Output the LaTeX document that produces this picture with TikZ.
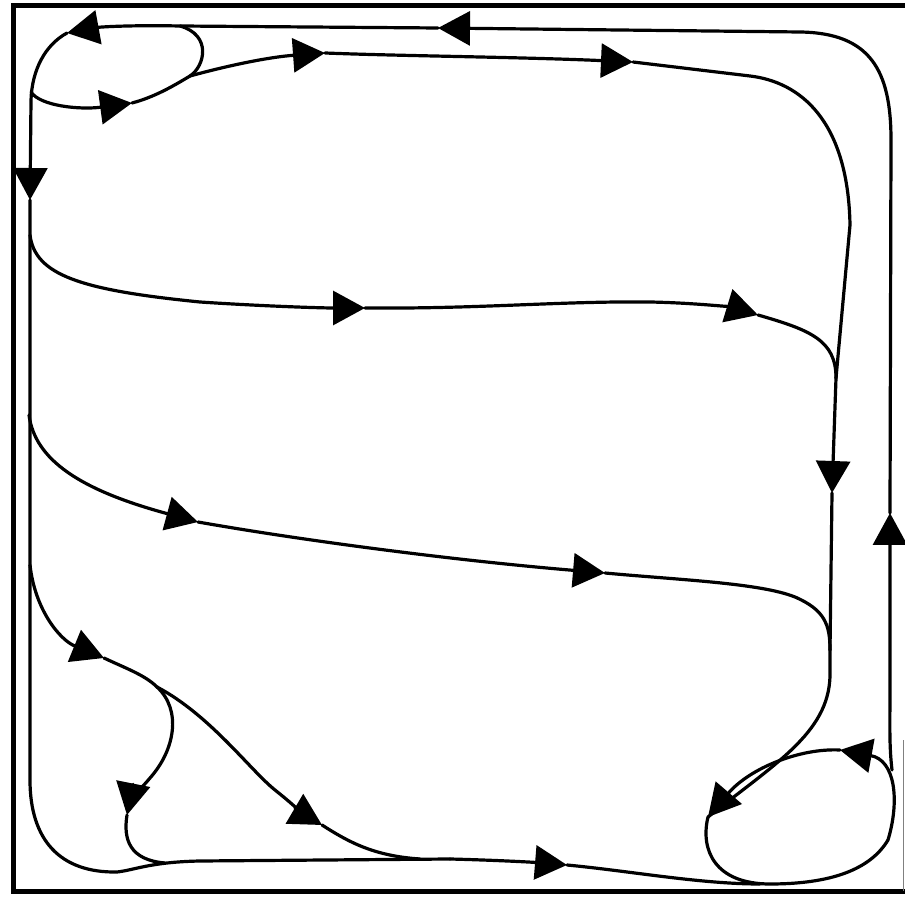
\documentclass[tikz,border=0pt]{standalone}
\usepackage{tikz}
\usetikzlibrary{arrows.meta}

\begin{document}
\begin{tikzpicture}[x=0.5pt, y=-0.5pt,
    flow/.style={line width=1.6pt, line cap=round, line join=round},
    headed/.style={-{Triangle[length=16pt, width=17pt]}}]
    \useasboundingbox (0,0) rectangle (905,897);

    % Frame
    \draw[line width=2.5pt] (905,6) -- (13,6) -- (13,891) -- (905,891);
    \draw[gray, line width=0.5pt] (903,740) -- (903,891);

    % Junctions
    \coordinate (lj1) at (31,92);    % left side meets top-left loop
    \coordinate (lj2) at (30,235);
    \coordinate (lj3) at (29,415);
    \coordinate (lj4) at (30,565);
    \coordinate (tlj) at (190,76);   % top-left loop splits
    \coordinate (blj) at (157,687);  % lower-left split
    \coordinate (rj1) at (836,378);
    \coordinate (rj2) at (830,650);
    \coordinate (brj) at (892,770);  % right side leaves bottom-right loop
    \coordinate (brt) at (708,817);

    % Outer circuit: up the right side, back along the top
    \draw[flow, headed] (brj) .. controls (889,745) and (890,720) .. (890,690) -- (890,513);
    \draw[flow, headed] (890,513) -- (891,140) .. controls (891,70) and (870,33) .. (800,32) -- (438,28);
    \draw[flow, headed] (438,28) -- (180,26) .. controls (130,25) and (100,27) .. (67,33);
    \draw[flow, headed] (67,33) .. controls (45,45) and (32,70) .. (31,100) -- (30,200);
    \draw[flow] (30,200) -- (30,780) .. controls (30,840) and (60,873) .. (117,872)
        .. controls (135,870) and (150,862) .. (200,861) -- (450,859);
    \draw[flow, headed] (450,859) .. controls (490,860) and (530,862) .. (567,865);
    \draw[flow] (567,865) .. controls (630,871) and (700,884) .. (760,884);

    % Top-left loop
    \draw[flow, headed] (lj1) .. controls (40,106) and (80,110) .. (132,103);
    \draw[flow] (132,103) .. controls (155,97) and (175,85) .. (tlj);
    \draw[flow] (tlj) .. controls (205,66) and (212,35) .. (180,26);

    % First sweep
    \draw[flow, headed] (tlj) .. controls (230,65) and (270,57) .. (325,53);
    \draw[flow, headed] (325,53) .. controls (400,56) and (520,57) .. (633,62);
    \draw[flow] (633,62) -- (750,76) .. controls (800,82) and (848,120) .. (850,225) -- (rj1);

    % Second sweep
    \draw[flow, headed] (lj2) .. controls (35,275) and (80,290) .. (200,302)
        .. controls (260,306) and (320,308) .. (365,308);
    \draw[flow, headed] (365,308) .. controls (480,309) and (560,301) .. (650,302)
        .. controls (700,303) and (735,308) .. (758,315);
    \draw[flow] (758,315) .. controls (810,330) and (836,340) .. (rj1);
    \draw[flow, headed] (rj1) -- (832,493);
    \draw[flow] (832,493) -- (rj2);
    \draw[flow] (rj2) -- (830,670) .. controls (832,730) and (780,760) .. (brt);

    % Third sweep
    \draw[flow, headed] (lj3) .. controls (35,460) and (80,490) .. (198,522);
    \draw[flow, headed] (198,522) .. controls (300,540) and (450,560) .. (605,573);
    \draw[flow] (605,573) .. controls (680,580) and (760,583) .. (795,597)
        .. controls (825,610) and (830,625) .. (rj2);

    % Fourth sweep and its split
    \draw[flow, headed] (lj4) .. controls (35,610) and (60,640) .. (104,658);
    \draw[flow] (104,658) .. controls (125,668) and (145,675) .. (blj);
    \draw[flow, headed] (blj) .. controls (182,710) and (175,750) .. (150,778)
        .. controls (140,790) and (130,800) .. (127,815);
    \draw[flow] (127,815) .. controls (123,840) and (130,860) .. (165,863);
    \draw[flow, headed] (blj) .. controls (210,715) and (250,770) .. (275,790)
        .. controls (290,802) and (305,815) .. (322,825);
    \draw[flow] (322,825) .. controls (350,843) and (375,856) .. (420,859);

    % Bottom-right loop
    \draw[flow, headed] (840,750) .. controls (800,748) and (750,768) .. (brt);
    \draw[flow] (brt) .. controls (700,850) and (715,884) .. (770,884)
        .. controls (830,884) and (870,870) .. (888,840);
    \draw[flow, headed] (888,840) .. controls (900,800) and (895,760) .. (840,750);
\end{tikzpicture}
\end{document}
